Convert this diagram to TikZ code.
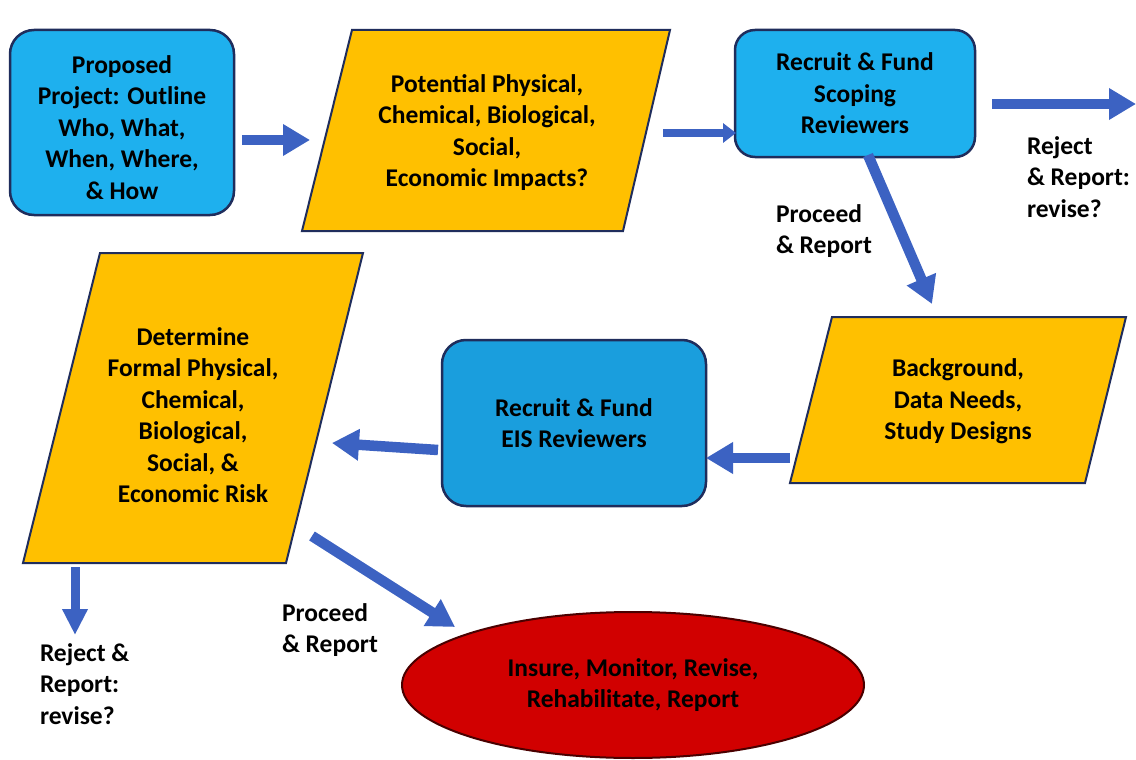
\documentclass[tikz,border=0pt]{standalone}
\usepackage{fontspec}
\setmainfont{Carlito}
\usetikzlibrary{arrows.meta,shapes.geometric}
\definecolor{boxblue}{HTML}{1EB0EE}
\definecolor{boxbluedark}{HTML}{1A9EDD}
\definecolor{navy}{HTML}{1F2D5C}
\definecolor{gold}{HTML}{FFC000}
\definecolor{arrowblue}{HTML}{3C62C2}
\definecolor{redfill}{HTML}{D10000}
\definecolor{redborder}{HTML}{4A0000}
\begin{document}
\begin{tikzpicture}[x=1pt,y=-1pt,
  every node/.style={font=\bfseries\fontsize{25.5}{31.5}\selectfont, inner sep=0pt, outer sep=0pt, text=black},
  rbox/.style={draw=navy, line width=2.5pt, fill=boxblue, rounded corners=24pt, align=center},
  para/.style={draw=navy, line width=2pt, fill=gold, line join=miter},
  ptext/.style={align=center},
  lbl/.style={align=left, anchor=west},
  bigarrow/.style={draw=arrowblue, line width=10.5pt, -{Triangle[width=30pt,length=27pt]}},
  midarrow/.style={draw=arrowblue, line width=8pt, -{Triangle[width=19pt,length=13pt]}},
  smallarrow/.style={draw=arrowblue, line width=9pt, -{Triangle[width=24pt,length=26pt]}}
]
\useasboundingbox[fill=white] (0,0) rectangle (1136,760);

% parallelogram shapes
\draw[para] (352,30) -- (670,30) -- (623,231) -- (302,231) -- cycle;
\draw[para] (832,317) -- (1126,317) -- (1085,483) -- (790,483) -- cycle;
\draw[para] (100,253) -- (363,253) -- (286,563) -- (23,563) -- cycle;

% boxes
\node[rbox, minimum width=224pt, minimum height=185pt] (b1) at (122,122.5)
  {\rule{0pt}{28pt}Proposed\\Project: Outline\\Who, What,\\When, Where,\\\& How};
\node[ptext] (p1) at (487,132.5)
  {Potential Physical,\\Chemical, Biological,\\Social,\\Economic Impacts?};
\node[rbox, rounded corners=20pt, minimum width=240pt, minimum height=127pt] (b3) at (855,93.5)
  {Recruit \& Fund\\Scoping\\Reviewers};
\node[ptext] (p4) at (958,401.5)
  {Background,\\Data Needs,\\Study Designs};
\node[rbox, fill=boxbluedark, minimum width=264pt, minimum height=166pt] (b5) at (574,423)
  {Recruit \& Fund\\EIS Reviewers};
\node[ptext] (p6) at (193,415)
  {Determine\\Formal Physical,\\Chemical,\\Biological,\\Social, \&\\Economic Risk};
\node[ellipse, draw=redborder, line width=2pt, fill=redfill, minimum width=462pt, minimum height=146pt, align=center] (e) at (633,685)
  {Insure, Monitor, Revise,\\Rehabilitate, Report};

% labels
\node[lbl] (l1) at (776,231) {Proceed\\\& Report};
\node[lbl] (l2) at (1027,177) {Reject\\\& Report:\\revise?};
\node[lbl] (l3) at (282,630) {Proceed\\\& Report};
\node[lbl] (l4) at (40,684) {Reject \&\\Report:\\revise?};

% connector end points
\coordinate (a1s) at (242,140); \coordinate (a1e) at (310,140);
\coordinate (a2s) at (663,133); \coordinate (a2e) at (736,133);
\coordinate (a3s) at (992,104); \coordinate (a3e) at (1136,104);
\coordinate (a4s) at (868,155); \coordinate (a4e) at (932,304);
\coordinate (a5s) at (790,458); \coordinate (a5e) at (706,458);
\coordinate (a6s) at (438,450); \coordinate (a6e) at (332,443);
\coordinate (a7s) at (75,567);  \coordinate (a7e) at (75,635);
\coordinate (a8s) at (312,536); \coordinate (a8e) at (455,627);

\draw[bigarrow] (a1s) -- (a1e);
\draw[midarrow] (a2s) -- (a2e);
\draw[bigarrow] (a3s) -- (a3e);
\draw[bigarrow] (a4s) -- (a4e);
\draw[bigarrow] (a5s) -- (a5e);
\draw[bigarrow] (a6s) -- (a6e);
\draw[smallarrow] (a7s) -- (a7e);
\draw[bigarrow] (a8s) -- (a8e);
\end{tikzpicture}
\end{document}
